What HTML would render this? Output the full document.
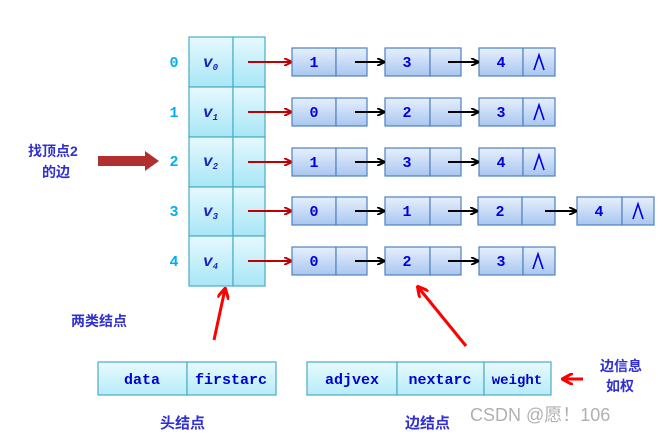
<!DOCTYPE html>
<html><head><meta charset="utf-8"><style>
body{margin:0;background:#fff;width:662px;height:432px;overflow:hidden}
svg text{font-family:"Liberation Mono","DejaVu Sans Mono",monospace;font-weight:bold}
.cj{font-family:"Liberation Sans","Noto Sans CJK SC",sans-serif;font-weight:bold}
</style></head><body>
<svg width="662" height="432" viewBox="0 0 662 432">
<defs>
<linearGradient id="hg" x1="0" y1="0" x2="0" y2="1"><stop offset="0" stop-color="#e6f9fe"/><stop offset="1" stop-color="#a8e6f6"/></linearGradient>
<linearGradient id="eg" x1="0" y1="0" x2="0" y2="1"><stop offset="0" stop-color="#e6f0fd"/><stop offset="1" stop-color="#a9c6f0"/></linearGradient>
<linearGradient id="bg" x1="0" y1="0" x2="0" y2="1"><stop offset="0" stop-color="#e8fafe"/><stop offset="1" stop-color="#b6ecf8"/></linearGradient>
<marker id="ra" markerWidth="8" markerHeight="8" refX="7" refY="4" orient="auto" markerUnits="userSpaceOnUse"><path d="M0,0 L8,4 L0,8" fill="none" stroke="#c00000" stroke-width="2"/></marker>
<marker id="ba" markerWidth="8" markerHeight="8" refX="7" refY="4" orient="auto" markerUnits="userSpaceOnUse"><path d="M0,0 L8,4 L0,8" fill="none" stroke="#000" stroke-width="2"/></marker>
<marker id="rr" markerWidth="12" markerHeight="12" refX="10" refY="6" orient="auto" markerUnits="userSpaceOnUse"><path d="M0,0 L11,6 L0,12" fill="none" stroke="#f00" stroke-width="3"/></marker>
</defs>
<g stroke="#4bacc6" stroke-width="1.2" fill="url(#hg)">
<rect x="189" y="37" width="44" height="50"/><rect x="233" y="37" width="32" height="50"/>
<rect x="189" y="87" width="44" height="50"/><rect x="233" y="87" width="32" height="50"/>
<rect x="189" y="137" width="44" height="50"/><rect x="233" y="137" width="32" height="50"/>
<rect x="189" y="187" width="44" height="49"/><rect x="233" y="187" width="32" height="49"/>
<rect x="189" y="236" width="44" height="50"/><rect x="233" y="236" width="32" height="50"/>
</g>
<g fill="#00b0f0" font-size="15" text-anchor="middle">
<text x="174" y="67">0</text><text x="174" y="117">1</text><text x="174" y="166">2</text><text x="174" y="216">3</text><text x="174" y="266">4</text>
</g>
<g fill="#2020c0" font-size="16" font-style="italic">
<text x="203" y="67">v<tspan font-size="9" dy="3">0</tspan></text>
<text x="203" y="117">v<tspan font-size="9" dy="3">1</tspan></text>
<text x="203" y="166">v<tspan font-size="9" dy="3">2</tspan></text>
<text x="203" y="216">v<tspan font-size="9" dy="3">3</tspan></text>
<text x="203" y="266">v<tspan font-size="9" dy="3">4</tspan></text>
</g>
<g stroke="#c00000" stroke-width="2" marker-end="url(#ra)">
<line x1="248" y1="62" x2="291" y2="62"/><line x1="248" y1="112" x2="291" y2="112"/><line x1="248" y1="162" x2="291" y2="162"/><line x1="248" y1="211" x2="291" y2="211"/><line x1="248" y1="261" x2="291" y2="261"/>
</g>
<g stroke="#4f81bd" stroke-width="1.2" fill="url(#eg)">
<rect x="292" y="48" width="44" height="28"/><rect x="336" y="48" width="31" height="28"/>
<rect x="385" y="48" width="45" height="28"/><rect x="430" y="48" width="31" height="28"/>
<rect x="479" y="48" width="44" height="28"/><rect x="523" y="48" width="32" height="28"/>
<rect x="292" y="98" width="44" height="28"/><rect x="336" y="98" width="31" height="28"/>
<rect x="385" y="98" width="45" height="28"/><rect x="430" y="98" width="31" height="28"/>
<rect x="479" y="98" width="44" height="28"/><rect x="523" y="98" width="32" height="28"/>
<rect x="292" y="148" width="44" height="28"/><rect x="336" y="148" width="31" height="28"/>
<rect x="385" y="148" width="45" height="28"/><rect x="430" y="148" width="31" height="28"/>
<rect x="479" y="148" width="44" height="28"/><rect x="523" y="148" width="32" height="28"/>
<rect x="292" y="197" width="44" height="28"/><rect x="336" y="197" width="31" height="28"/>
<rect x="385" y="197" width="45" height="28"/><rect x="430" y="197" width="31" height="28"/>
<rect x="478" y="197" width="44" height="28"/><rect x="522" y="197" width="33" height="28"/>
<rect x="577" y="197" width="45" height="28"/><rect x="622" y="197" width="32" height="28"/>
<rect x="292" y="247" width="44" height="28"/><rect x="336" y="247" width="31" height="28"/>
<rect x="385" y="247" width="45" height="28"/><rect x="430" y="247" width="31" height="28"/>
<rect x="479" y="247" width="44" height="28"/><rect x="523" y="247" width="32" height="28"/>
</g>
<g fill="#0000e0" font-size="15" text-anchor="middle">
<text x="314" y="67">1</text><text x="407" y="67">3</text><text x="501" y="67">4</text>
<text x="314" y="117">0</text><text x="407" y="117">2</text><text x="501" y="117">3</text>
<text x="314" y="167">1</text><text x="407" y="167">3</text><text x="501" y="167">4</text>
<text x="314" y="216">0</text><text x="407" y="216">1</text><text x="500" y="216">2</text><text x="599" y="216">4</text>
<text x="314" y="266">0</text><text x="407" y="266">2</text><text x="501" y="266">3</text>
</g>
<g fill="none" stroke="#0000e0" stroke-width="1.6">
<path d="M534,70 L539,55 L544,70"/><path d="M534,120 L539,105 L544,120"/><path d="M534,170 L539,155 L544,170"/><path d="M533,269 L538,254 L543,269"/><path d="M633,219 L638,204 L643,219"/>
</g>
<g stroke="#000" stroke-width="2" marker-end="url(#ba)">
<line x1="355" y1="62" x2="384" y2="62"/><line x1="448" y1="62" x2="478" y2="62"/>
<line x1="355" y1="112" x2="384" y2="112"/><line x1="448" y1="112" x2="478" y2="112"/>
<line x1="355" y1="162" x2="384" y2="162"/><line x1="448" y1="162" x2="478" y2="162"/>
<line x1="355" y1="211" x2="384" y2="211"/><line x1="448" y1="211" x2="477" y2="211"/><line x1="545" y1="211" x2="576" y2="211"/>
<line x1="355" y1="261" x2="384" y2="261"/><line x1="448" y1="261" x2="478" y2="261"/>
</g>
<path d="M98,156 L145,156 L145,151 L159,161 L145,171 L145,166 L98,166 Z" fill="#b03030"/>
<text class="cj" x="28" y="156" fill="#3030d0" font-size="14">找顶点2</text>
<text class="cj" x="42" y="177" fill="#3030d0" font-size="14">的边</text>
<text class="cj" x="71" y="326" fill="#3030d0" font-size="14">两类结点</text>
<g stroke="#f00" stroke-width="3" marker-end="url(#rr)">
<line x1="214" y1="340" x2="225" y2="289"/><line x1="466" y1="346" x2="418" y2="287"/><line x1="583" y1="379" x2="563" y2="379"/>
</g>
<g stroke="#4bacc6" stroke-width="1.2" fill="url(#bg)">
<rect x="98" y="362" width="89" height="33"/><rect x="187" y="362" width="89" height="33"/>
<rect x="307" y="362" width="90" height="33"/><rect x="397" y="362" width="87" height="33"/><rect x="484" y="362" width="67" height="33"/>
</g>
<g fill="#0000d0" font-size="15" text-anchor="middle">
<text x="142" y="384">data</text><text x="231" y="384">firstarc</text>
<text x="352" y="384">adjvex</text><text x="440" y="384">nextarc</text><text x="517" y="384" font-size="14">weight</text>
</g>
<text class="cj" x="600" y="371" fill="#3030d0" font-size="14" font-weight="normal">边信息</text>
<text class="cj" x="606" y="391" fill="#3030d0" font-size="14">如权</text>
<text class="cj" x="160" y="428" fill="#3030d0" font-size="15">头结点</text>
<text class="cj" x="405" y="428" fill="#3030d0" font-size="15">边结点</text>
<text x="470" y="421" fill="#b0b0b0" font-size="18" style="font-family:'Liberation Sans','Noto Sans CJK SC',sans-serif;font-weight:normal">CSDN @愿！106</text>
</svg>
</body></html>
